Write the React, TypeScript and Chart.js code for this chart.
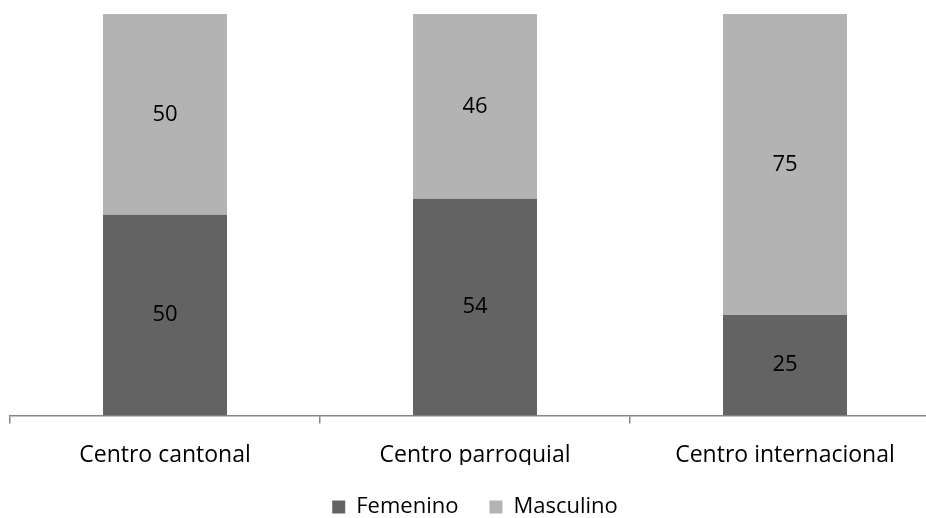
import React, { useEffect, useRef } from "react";
import { Chart, registerables } from "chart.js";

Chart.register(...registerables);

const categories = ["Centro cantonal", "Centro parroquial", "Centro internacional"];
const femenino = [50, 54, 25];
const masculino = [50, 46, 75];

const FONT = "'Open Sans', 'Noto Sans', sans-serif";

const valueLabels = {
  id: "valueLabels",
  afterDatasetsDraw(chart: any) {
    const ctx = chart.ctx;
    ctx.save();
    ctx.font = `22px ${FONT}`;
    ctx.fillStyle = "#000000";
    ctx.textAlign = "center";
    ctx.textBaseline = "middle";
    chart.data.datasets.forEach((ds: any, i: number) => {
      const meta = chart.getDatasetMeta(i);
      meta.data.forEach((el: any, j: number) => {
        const mid = (el.y + el.base) / 2;
        ctx.fillText(String(ds.data[j]), el.x, mid);
      });
    });
    ctx.restore();
  },
};

export default function App() {
  const ref = useRef<HTMLCanvasElement | null>(null);
  useEffect(() => {
    document.body.style.margin = "0";
    const chart = new Chart(ref.current!, {
      type: "bar",
      data: {
        labels: categories,
        datasets: [
          { label: "Femenino", data: femenino, backgroundColor: "#636363", categoryPercentage: 0.8, barPercentage: 0.5 },
          { label: "Masculino", data: masculino, backgroundColor: "#b3b3b3", categoryPercentage: 0.8, barPercentage: 0.5 },
        ],
      },
      options: {
        animation: false,
        responsive: false,
        maintainAspectRatio: false,
        layout: { padding: { left: 10, right: 10, top: 14, bottom: -10 } },
        plugins: {
          legend: {
            position: "bottom",
            labels: {
              boxWidth: 13,
              boxHeight: 13,
              padding: 31,
              color: "#000000",
              font: { family: FONT, size: 22 },
            },
          },
          tooltip: { enabled: false },
        },
        scales: {
          x: {
            stacked: true,
            border: { display: true, color: "#868686", width: 1.5 },
            grid: { display: true, offset: true, drawOnChartArea: false, drawTicks: true, tickLength: 8, color: "#868686", lineWidth: 1.5 },
            ticks: { color: "#000000", font: { family: FONT, size: 23 }, padding: 18, maxRotation: 0 },
            afterFit(scale: any) {
              scale.height -= 22;
            },
          },
          y: { stacked: true, min: 0, max: 100, display: false },
        },
      },
      plugins: [valueLabels],
    });
    return () => chart.destroy();
  }, []);
  return (
    <div style={{ width: 926, height: 518, overflow: "hidden", position: "relative", background: "#fff" }}>
      <canvas ref={ref} width={950} height={518} style={{ display: "block" }} />
    </div>
  );
}
